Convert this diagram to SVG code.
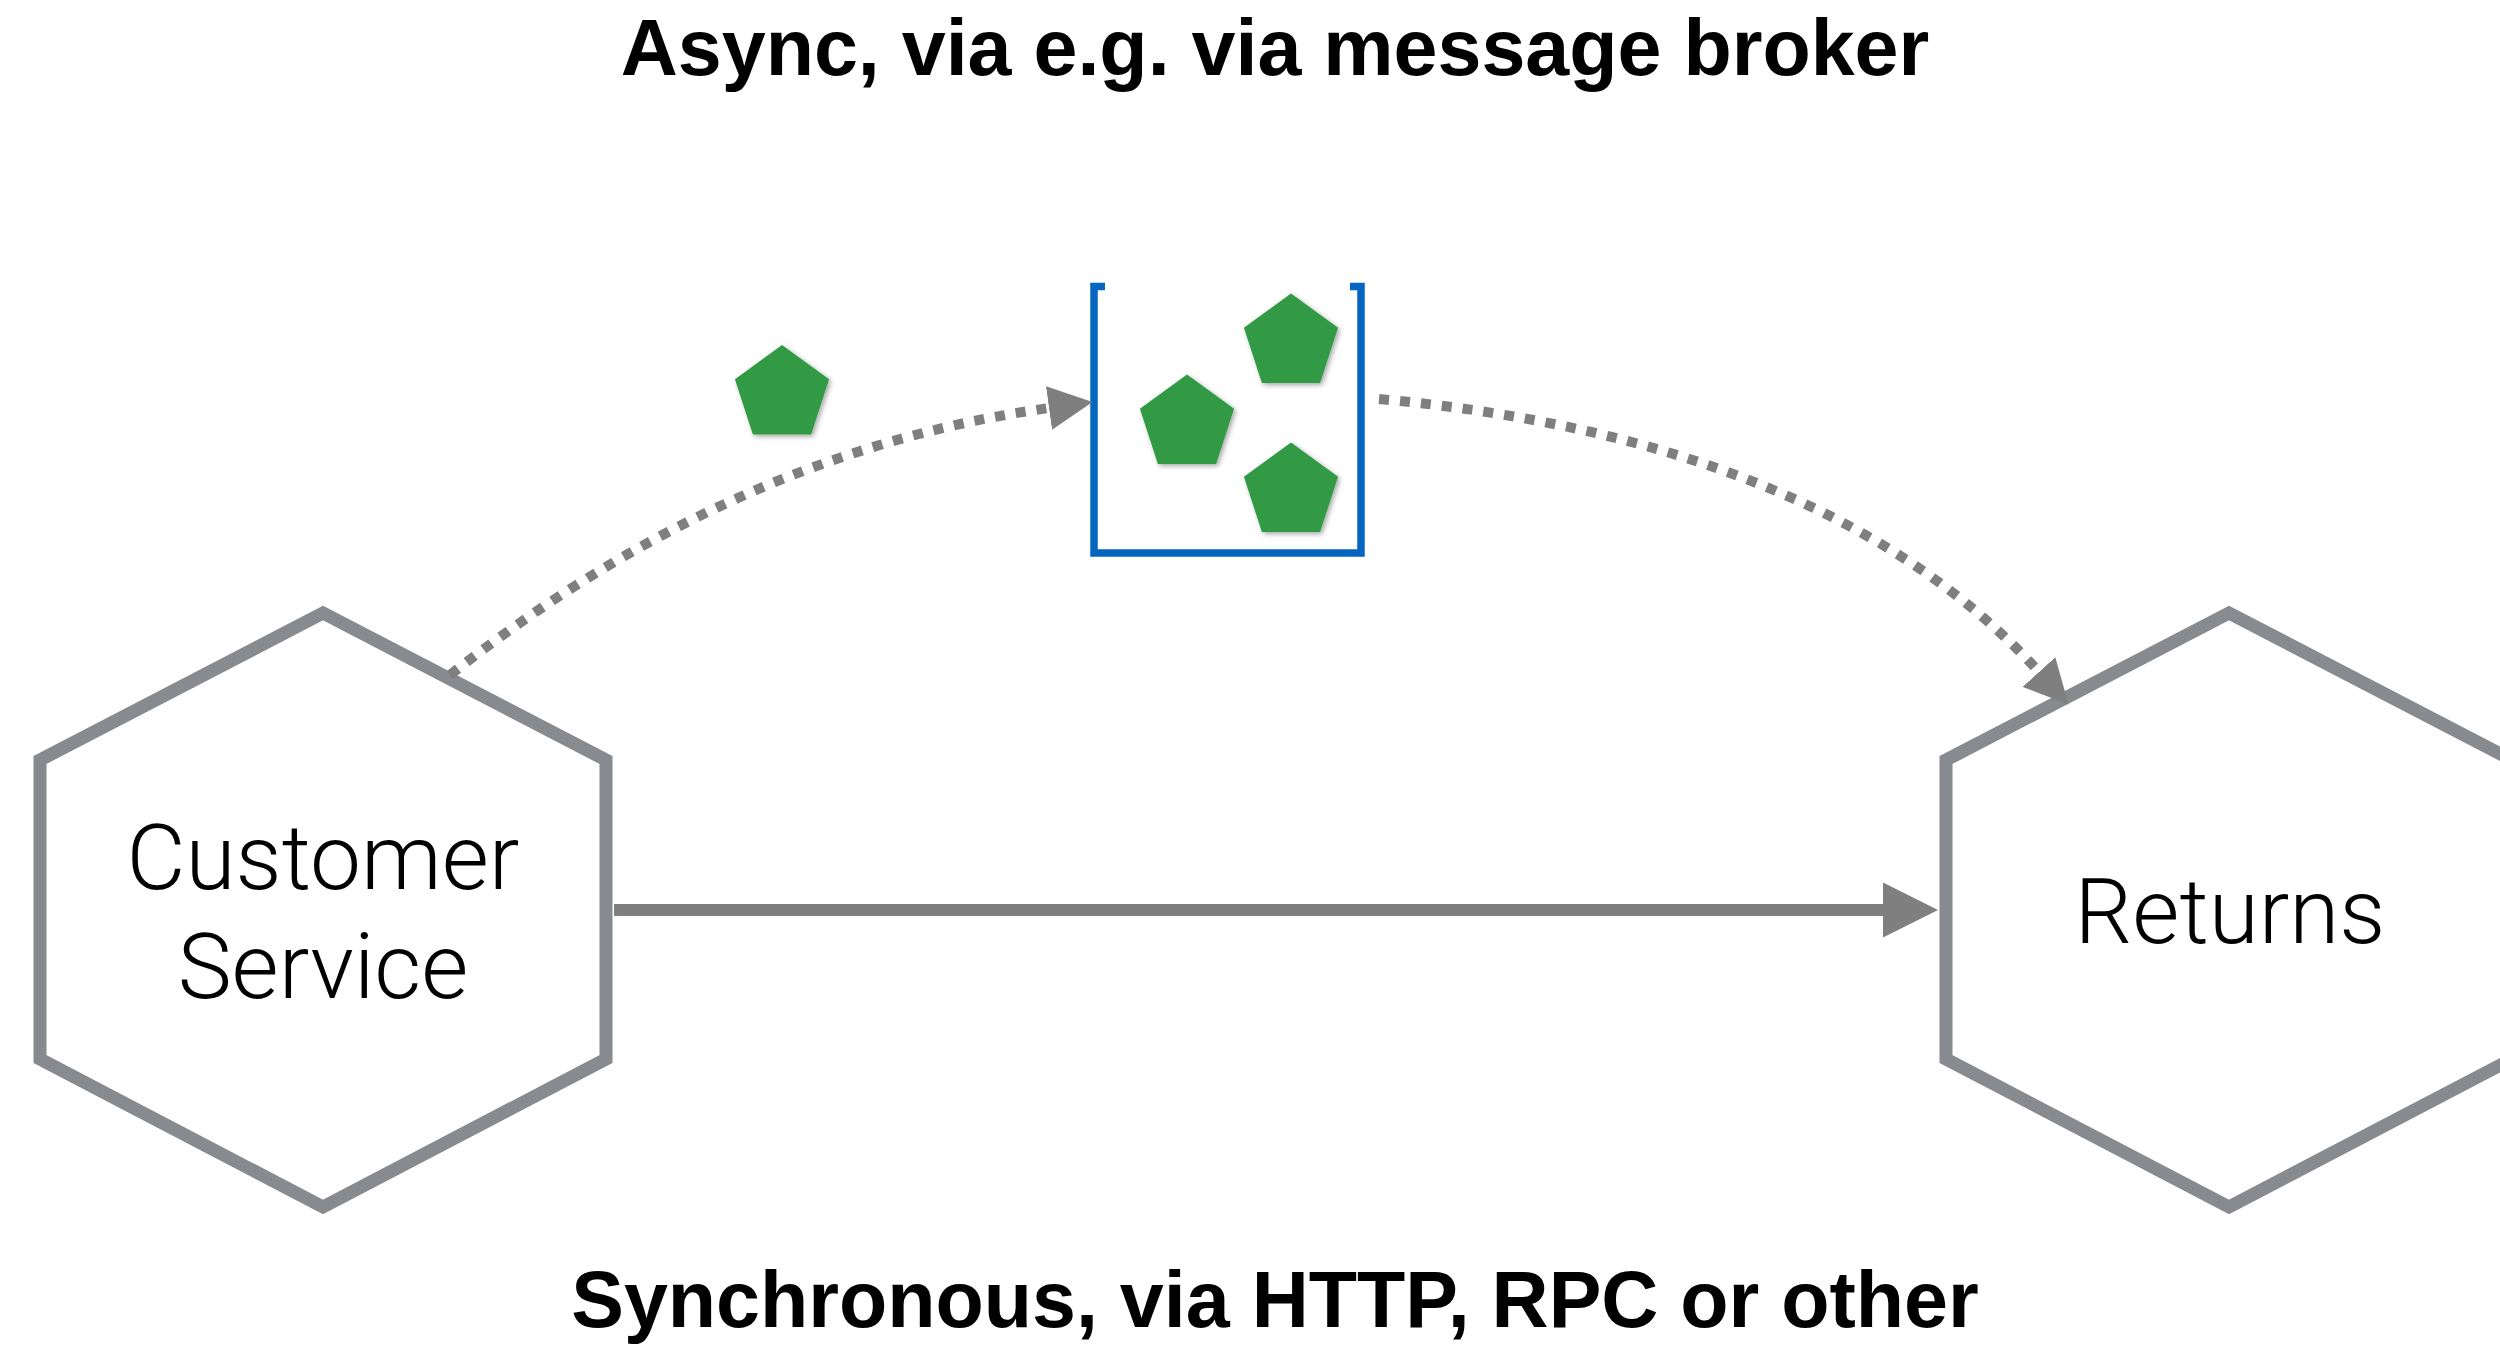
<svg xmlns="http://www.w3.org/2000/svg" width="2500" height="1349" viewBox="0 0 2500 1349">
  <style>
    .hex { fill: #ffffff; stroke: #878A8E; stroke-width: 13; stroke-linejoin: miter; }
    .label { font-family: "Roboto", "Liberation Sans", sans-serif; font-weight: 300; font-size: 91px; fill: #000000; text-anchor: middle; }
    .title { font-family: "Liberation Sans", "Helvetica", sans-serif; font-weight: bold; font-size: 79px; fill: #000000; text-anchor: middle; }
    .dotted { fill: none; stroke: #7F7F7F; stroke-width: 10; stroke-dasharray: 10 11; }
    .solid { fill: none; stroke: #7F7F7F; stroke-width: 12; }
    .queue { fill: none; stroke: #0565C0; stroke-width: 7.5; stroke-linejoin: miter; }
    .msg { fill: #309A45; filter: url(#shadow); }
  </style>
  <defs>
    <marker id="arrowSm" markerUnits="userSpaceOnUse" markerWidth="44" markerHeight="44" viewBox="0 0 43 43" refX="0" refY="21.5" orient="auto">
      <path d="M0,0 L43,21.5 L0,43 Z" fill="#7F7F7F"/>
    </marker>
    <marker id="arrowLg" markerUnits="userSpaceOnUse" markerWidth="55" markerHeight="55" viewBox="0 0 54 54" refX="0" refY="27" orient="auto">
      <path d="M0,0 L54,27 L0,54 Z" fill="#7F7F7F"/>
    </marker>
    <filter id="shadow" x="-20%" y="-20%" width="150%" height="150%">
      <feDropShadow dx="2" dy="2" stdDeviation="2.5" flood-color="#000000" flood-opacity="0.35"/>
    </filter>
    <polygon id="penta" points="0,-49.5 47.08,-15.3 29.1,40.05 -29.1,40.05 -47.08,-15.3"/>
  </defs>

  <rect x="0" y="0" width="2500" height="1349" fill="#ffffff"/>

  <text class="title" x="1275" y="75">Async, via e.g. via message broker</text>
  <text class="title" x="1275" y="1327">Synchronous, via HTTP, RPC or other</text>

  <g id="customer-service">
    <polygon class="hex" points="323,613 606,760 606,1059 323,1207 40,1059 40,760"/>
    <text class="label" x="323" y="889">Customer</text>
    <text class="label" x="323" y="998">Service</text>
  </g>

  <g id="returns">
    <polygon class="hex" points="2229,613 2512,760 2512,1059 2229,1207 1946,1059 1946,760"/>
    <text class="label" x="2230" y="943">Returns</text>
  </g>

  <g id="message-broker">
    <path class="queue" d="M1105,286.5 H1094 V553 H1361 V286.5 H1350"/>
    <use href="#penta" class="msg" x="1291" y="343"/>
    <use href="#penta" class="msg" x="1187" y="424"/>
    <use href="#penta" class="msg" x="1291" y="492"/>
  </g>

  <g id="message-in-flight">
    <use href="#penta" class="msg" x="782" y="394.5"/>
  </g>

  <g id="connectors">
    <path class="dotted" d="M450,675 C665,505 869,433.2 1049,408" marker-end="url(#arrowSm)"/>
    <path class="dotted" d="M1379,399 C1659,424.2 1891.6,509.2 2039,672" marker-end="url(#arrowSm)"/>
    <path class="solid" d="M614,910 H1883" marker-end="url(#arrowLg)"/>
  </g>
</svg>
